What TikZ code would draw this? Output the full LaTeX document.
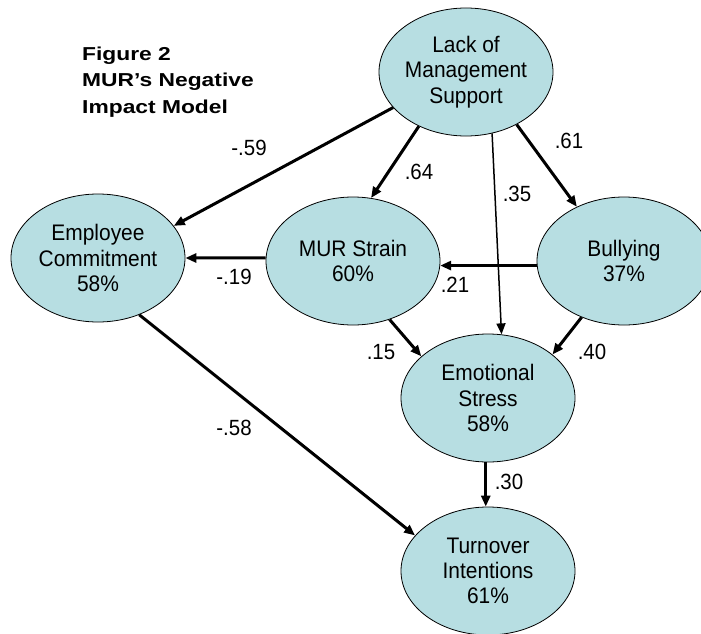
\documentclass[tikz,border=0pt]{standalone}
\usepackage{fontspec}
\setmainfont{Liberation Sans}[FakeStretch=0.93]
\newfontfamily\titlefont{Liberation Sans}[FakeStretch=1.22]
\usetikzlibrary{shapes.geometric,arrows.meta}
\definecolor{nodefill}{RGB}{183,222,226}
\begin{document}
\begin{tikzpicture}[x=1pt,y=-1pt,
  var/.style={ellipse,draw=black,line width=0.8pt,fill=nodefill,minimum width=174pt,minimum height=128pt,inner sep=0pt,align=center,font=\fontsize{22.5}{25.3}\selectfont},
  arr/.style={line width=3pt,-{Triangle[length=11pt,width=9pt]}},
  thinarr/.style={line width=1.5pt,-{Triangle[length=11pt,width=9pt]}},
  lbl/.style={font=\fontsize{22}{24}\selectfont,inner sep=0pt},
  ttl/.style={anchor=north west,align=left,inner sep=0pt,font=\titlefont\bfseries\fontsize{18.7}{26.7}\selectfont}]
\useasboundingbox (0,0) rectangle (701,634);
\fill[white] (0,0) rectangle (701,634);
\node[ttl] (title) at (82,46.5) {Figure 2\\MUR’s Negative\\Impact Model};
\node[var] (lack) at (466,72) {Lack of\\Management\\Support};
\node[var] (emp) at (98,258) {Employee\\Commitment\\58\%};
\node[var] (mur) at (353,261) {MUR Strain\\60\%};
\node[var] (bul) at (624,261) {Bullying\\37\%};
\node[var] (emo) at (488,398) {Emotional\\Stress\\58\%};
\node[var] (turn) at (488,571) {Turnover\\Intentions\\61\%};
\draw[arr] (lack.206) -- (emp.23);
\draw[arr] (lack.229) -- (mur.74);
\draw[thinarr] (lack.293) -- (emo.78);
\draw[arr] (lack.314) -- (bul.131);
\draw[arr] (mur.178) -- (emp.0);
\draw[arr] (bul.183) -- (mur.357);
\draw[arr] (mur.302) -- (emo.148);
\draw[arr] (bul.233) -- (emo.34);
\draw[arr] (emp.306) -- (turn.154);
\draw[arr] (emo.268) -- (turn.92);
\node[lbl] (l59) at (249,148) {-.59};
\node[lbl] (l64) at (419,172) {.64};
\node[lbl] (l35) at (517,194) {.35};
\node[lbl] (l61) at (569,141) {.61};
\node[lbl] (l19) at (234,277) {-.19};
\node[lbl] (l21) at (455,285) {.21};
\node[lbl] (l15) at (381,352) {.15};
\node[lbl] (l40) at (592,352) {.40};
\node[lbl] (l58) at (234,428) {-.58};
\node[lbl] (l30) at (509,482) {.30};
\end{tikzpicture}
\end{document}
